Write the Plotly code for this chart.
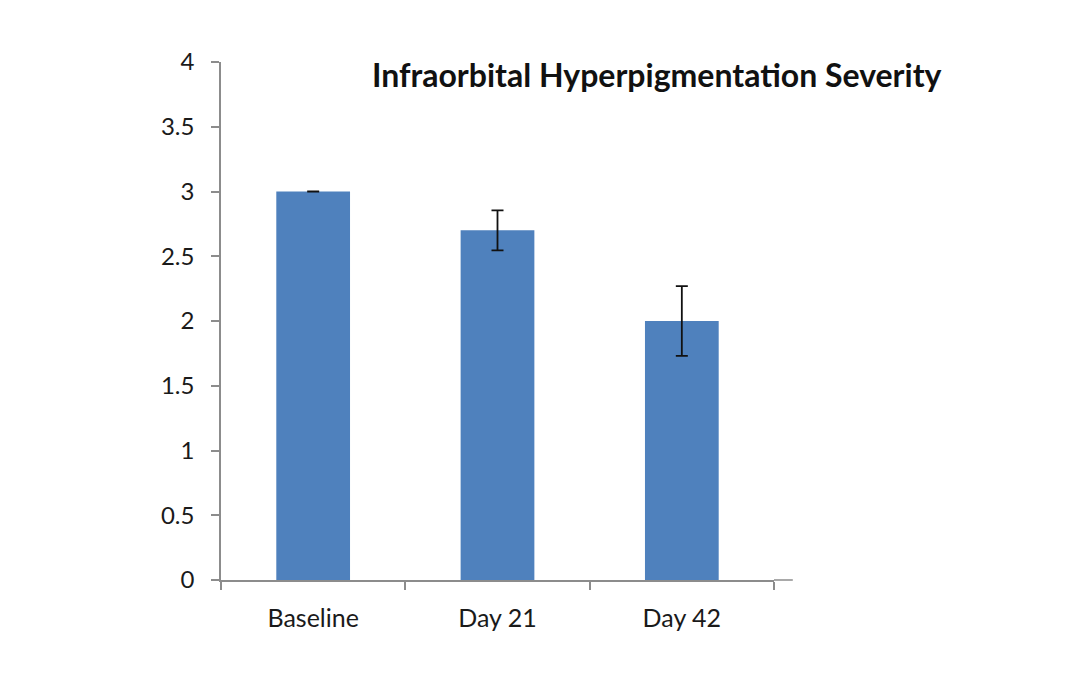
import plotly.graph_objects as go

categories = ["Baseline", "Day 21", "Day 42"]
severity = [3.0, 2.7, 2.0]
errors = [0.0, 0.155, 0.27]
y_ticks = [0, 0.5, 1, 1.5, 2, 2.5, 3, 3.5, 4]
y_tick_labels = ["0", "0.5", "1", "1.5", "2", "2.5", "3", "3.5", "4"]

FONT = "Lato, 'Open Sans', sans-serif"
AXIS_COLOR = "#8c8c8c"

fig = go.Figure()
fig.add_trace(go.Bar(
    x=categories, y=severity,
    marker=dict(color="#4f81bd", line=dict(width=0)),
    error_y=dict(type="data", array=errors, visible=True, color="#111111",
                 thickness=1.8, width=6),
    width=0.4,
))

fig.update_layout(
    width=1084, height=694,
    margin=dict(l=221, r=310, t=62, b=114),
    paper_bgcolor="white", plot_bgcolor="white",
    showlegend=False,
    font=dict(family=FONT, size=25, color="#1a1a1a"),
    xaxis=dict(
        type="category", range=[-0.5, 2.5],
        showline=True, linecolor=AXIS_COLOR, linewidth=1.5,
        ticks="outside", tickson="boundaries", ticklen=8, tickcolor=AXIS_COLOR, tickwidth=1.5,
        showgrid=False, zeroline=False,
        tickfont=dict(family=FONT, size=25, color="#1a1a1a"),
        ticklabelstandoff=15,
    ),
    yaxis=dict(
        range=[0, 4], tickvals=y_ticks, ticktext=y_tick_labels,
        showline=True, linecolor=AXIS_COLOR, linewidth=1.5,
        ticks="outside", ticklen=8, tickcolor=AXIS_COLOR, tickwidth=1.5,
        showgrid=False, zeroline=False,
        tickfont=dict(family=FONT, size=24, color="#1a1a1a"),
        ticklabelstandoff=12,
    ),
    annotations=[dict(
        text="<b>Infraorbital Hyperpigmentation Severity</b>",
        xref="paper", yref="paper", x=0.788, y=0.975,
        xanchor="center", yanchor="middle", showarrow=False,
        font=dict(family=FONT, size=32, color="#111111"),
    )],
    shapes=[dict(
        type="line", xref="paper", yref="paper",
        x0=1.0, x1=1.034, y0=0, y1=0,
        line=dict(color=AXIS_COLOR, width=1.5),
    )],
)

fig.write_html("out.html")
